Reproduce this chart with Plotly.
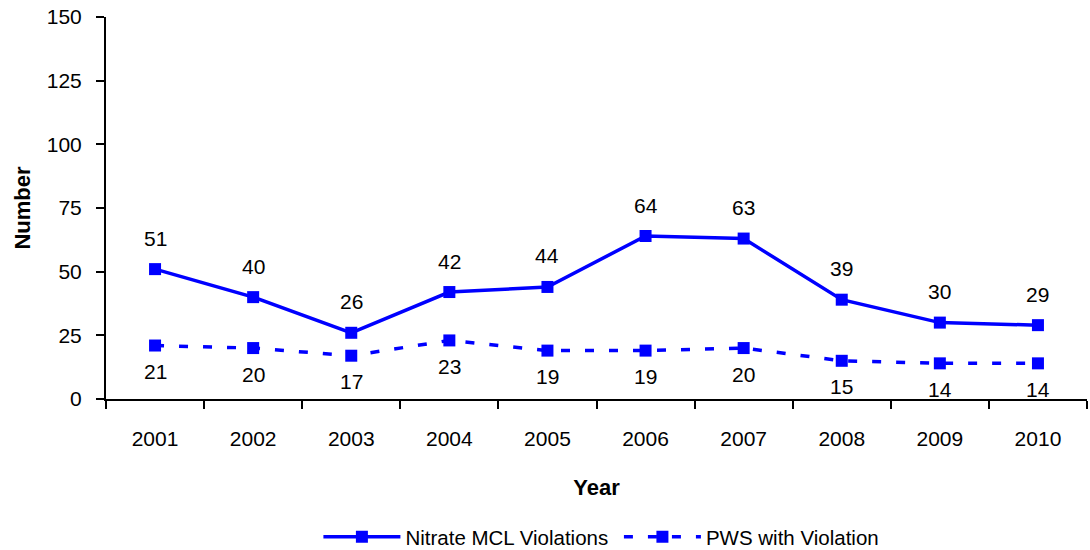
import plotly.graph_objects as go

years = ["2001", "2002", "2003", "2004", "2005", "2006", "2007", "2008", "2009", "2010"]
nitrate = [51, 40, 26, 42, 44, 64, 63, 39, 30, 29]
pws = [21, 20, 17, 23, 19, 19, 20, 15, 14, 14]
y_ticks = [0, 25, 50, 75, 100, 125, 150]

FONT = "Liberation Sans, Arial"
BLUE = "#0000FF"

fig = go.Figure()
fig.add_trace(go.Scatter(
    x=years, y=nitrate, name="Nitrate MCL Violations\u00a0", mode="lines+markers",
    line=dict(color=BLUE, width=3.5), marker=dict(symbol="square", size=12, color=BLUE)))
fig.add_trace(go.Scatter(
    x=years, y=pws, name="PWS with Violation", mode="lines+markers",
    line=dict(color=BLUE, width=3.5, dash="9px,15px"), marker=dict(symbol="square", size=12, color=BLUE)))

for i, v in enumerate(nitrate):
    fig.add_annotation(x=i, y=v, text=str(v), showarrow=False, yshift=31,
                       font=dict(family=FONT, size=21, color="black"))
for i, v in enumerate(pws):
    fig.add_annotation(x=i, y=v, text=str(v), showarrow=False, yshift=-26,
                       font=dict(family=FONT, size=21, color="black"))

fig.update_layout(
    width=1090, height=550,
    margin=dict(l=106, r=3, t=17, b=151, autoexpand=False),
    paper_bgcolor="white", plot_bgcolor="white",
    font=dict(family=FONT, size=21, color="black"),
    showlegend=True,
    legend=dict(orientation="h", x=0.505, xanchor="center", xref="paper",
                y=13 / 550, yanchor="middle", yref="container",
                font=dict(family=FONT, size=20.5), itemwidth=77),
)
fig.update_xaxes(
    type="category", range=[-0.5, len(years) - 0.5],
    showline=True, linecolor="black", linewidth=2,
    ticks="outside", ticklen=8, tickwidth=2, tickcolor="black", tickson="boundaries",
    showgrid=False, zeroline=False, tickangle=0, ticklabelstandoff=20,
    title=dict(text="<b>Year</b>", font=dict(family=FONT, size=22), standoff=30),
    tickfont=dict(family=FONT, size=21),
)
fig.update_yaxes(
    range=[0, 150], tickvals=y_ticks, showline=True, linecolor="black", linewidth=2,
    ticks="outside", ticklen=8, tickwidth=2, tickcolor="black", showgrid=False, zeroline=False,
    ticklabelstandoff=10, ticklabeloverflow="allow",
    title=dict(text="<b>Number</b>", font=dict(family=FONT, size=22), standoff=10),
    tickfont=dict(family=FONT, size=21),
)

# remove the default 8px body margin so the 1090x550 figure fills the window exactly
fig.write_html("out.html", config={"displayModeBar": False},
               post_script="document.body.style.margin='0';")
